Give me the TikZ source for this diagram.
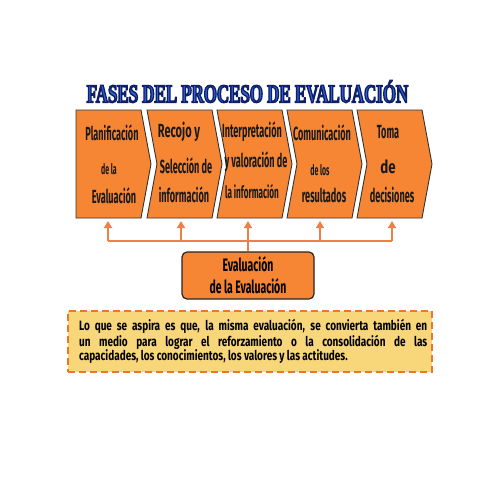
\documentclass[tikz,border=0pt]{standalone}
\usepackage{fontspec}
\usetikzlibrary{arrows.meta}
\newfontfamily\hand[FakeStretch=0.48]{Fira Sans}
\newfontfamily\handB[FakeStretch=0.74]{Fira Sans}
\newfontfamily\handC[FakeStretch=0.58]{Fira Sans}
\newfontfamily\titlefont[FakeStretch=0.65]{Liberation Serif}
\newcommand{\outlinetext}[1]{\special{pdf:literal direct 2 Tr 1.3 w 0.06 0.12 0.40 RG}#1\special{pdf:literal direct 0 Tr}}
\definecolor{chev}{RGB}{246,134,52}
\definecolor{arrc}{RGB}{238,128,70}
\definecolor{notebg}{RGB}{248,214,122}
\definecolor{notebd}{RGB}{238,118,40}
\definecolor{titleblue}{RGB}{45,95,215}
\tikzset{
  chevshape/.style={draw=black!80, line width=0.9pt, fill=chev, line join=miter},
  big/.style={font=\hand\bfseries\fontsize{19}{19}\selectfont, inner sep=0pt, text=black!90},
  small/.style={font=\hand\bfseries\fontsize{14.5}{14.5}\selectfont, inner sep=0pt, text=black!90},
  titlestyle/.style={font=\titlefont\bfseries\fontsize{26}{26}\selectfont, inner sep=0pt},
  conn/.style={draw=arrc, line width=2.4pt},
  arr/.style={conn, -{Triangle[length=7pt,width=8pt]}},
  evalbox/.style={draw=black!85, line width=1.2pt, fill=chev, rounded corners=5pt,
    minimum width=132pt, minimum height=47pt, inner sep=0pt, align=center,
    font=\handC\bfseries\fontsize{18}{22}\selectfont},
  notebox/.style={draw=notebd, fill=notebg, line width=2pt, dash pattern=on 7pt off 4pt,
    minimum width=364pt, minimum height=61pt, inner sep=0pt},
  notetext/.style={text width=348pt, align=justify, inner sep=0pt,
    font=\handB\bfseries\fontsize{13.5}{14}\selectfont}
}
\begin{document}
\begin{tikzpicture}[x=1pt,y=-1pt]
\useasboundingbox (0,0) rectangle (495,495);
\fill[white] (0,0) rectangle (495,495);
% title
\node (title) [titlestyle, text=titleblue] at (247.5,91.5) {\outlinetext{FASES DEL PROCESO DE EVALUACIÓN}};
% chevrons
\draw[chevshape] (76,110) -- (141,110) -- (151,164) -- (141,218) -- (76,218) -- cycle;
\foreach \x in {147,217,287,357} {
  \draw[chevshape] (\x,110) -- (\x+65,110) -- (\x+75,164) -- (\x+65,218) -- (\x,218) -- (\x+10,164) -- cycle;
}
% chevron texts
\node (c1a) [big] at (112,133) {Planificación};
\node (c1b) [small] at (109,169) {de la};
\node (c1c) [big] at (114,196) {Evaluación};
\node (c2a) [big, font=\handC\bfseries\fontsize{19}{19}\selectfont] at (179,132) {Recojo y};
\node (c2b) [big] at (186,166) {Selección de};
\node (c2c) [big] at (184,195) {información};
\node (c3a) [big] at (252,132) {Interpretación};
\node (c3b) [big] at (256,162) {y valoración de};
\node (c3c) [big, font=\hand\bfseries\fontsize{17}{17}\selectfont] at (252,192) {la información};
\node (c4a) [big] at (322,133) {Comunicación};
\node (c4b) [small] at (320,170) {de los};
\node (c4c) [big] at (324,195) {resultados};
\node (c5a) [big] at (388,132) {Toma};
\node (c5b) [big, font=\handB\bfseries\fontsize{18}{18}\selectfont] at (388,167) {de};
\node (c5c) [big] at (392,195) {decisiones};
% connectors
\foreach \i/\x in {1/108,2/181,3/248,4/320,5/392} {
  \coordinate (h\i) at (\x,241);
  \coordinate (b\i) at (\x,221);
}
\node (ev) [evalbox] at (248,275.5) {Evaluación\\de la Evaluación};
\draw[conn] (h1) -- (h5);
\draw[conn] (ev.north) -- (h3);
\foreach \i in {1,...,5} { \draw[arr] (h\i) -- (b\i); }
% note
\node (note) [notebox] at (250,341) {};
\node (notet) [notetext, anchor=north west] at (79,319.5) {Lo que se aspira es que, la misma evaluación, se convierta también en\linebreak un medio para lograr el reforzamiento o la consolidación de las\linebreak capacidades, los conocimientos, los valores y las actitudes.};
\end{tikzpicture}
\end{document}
